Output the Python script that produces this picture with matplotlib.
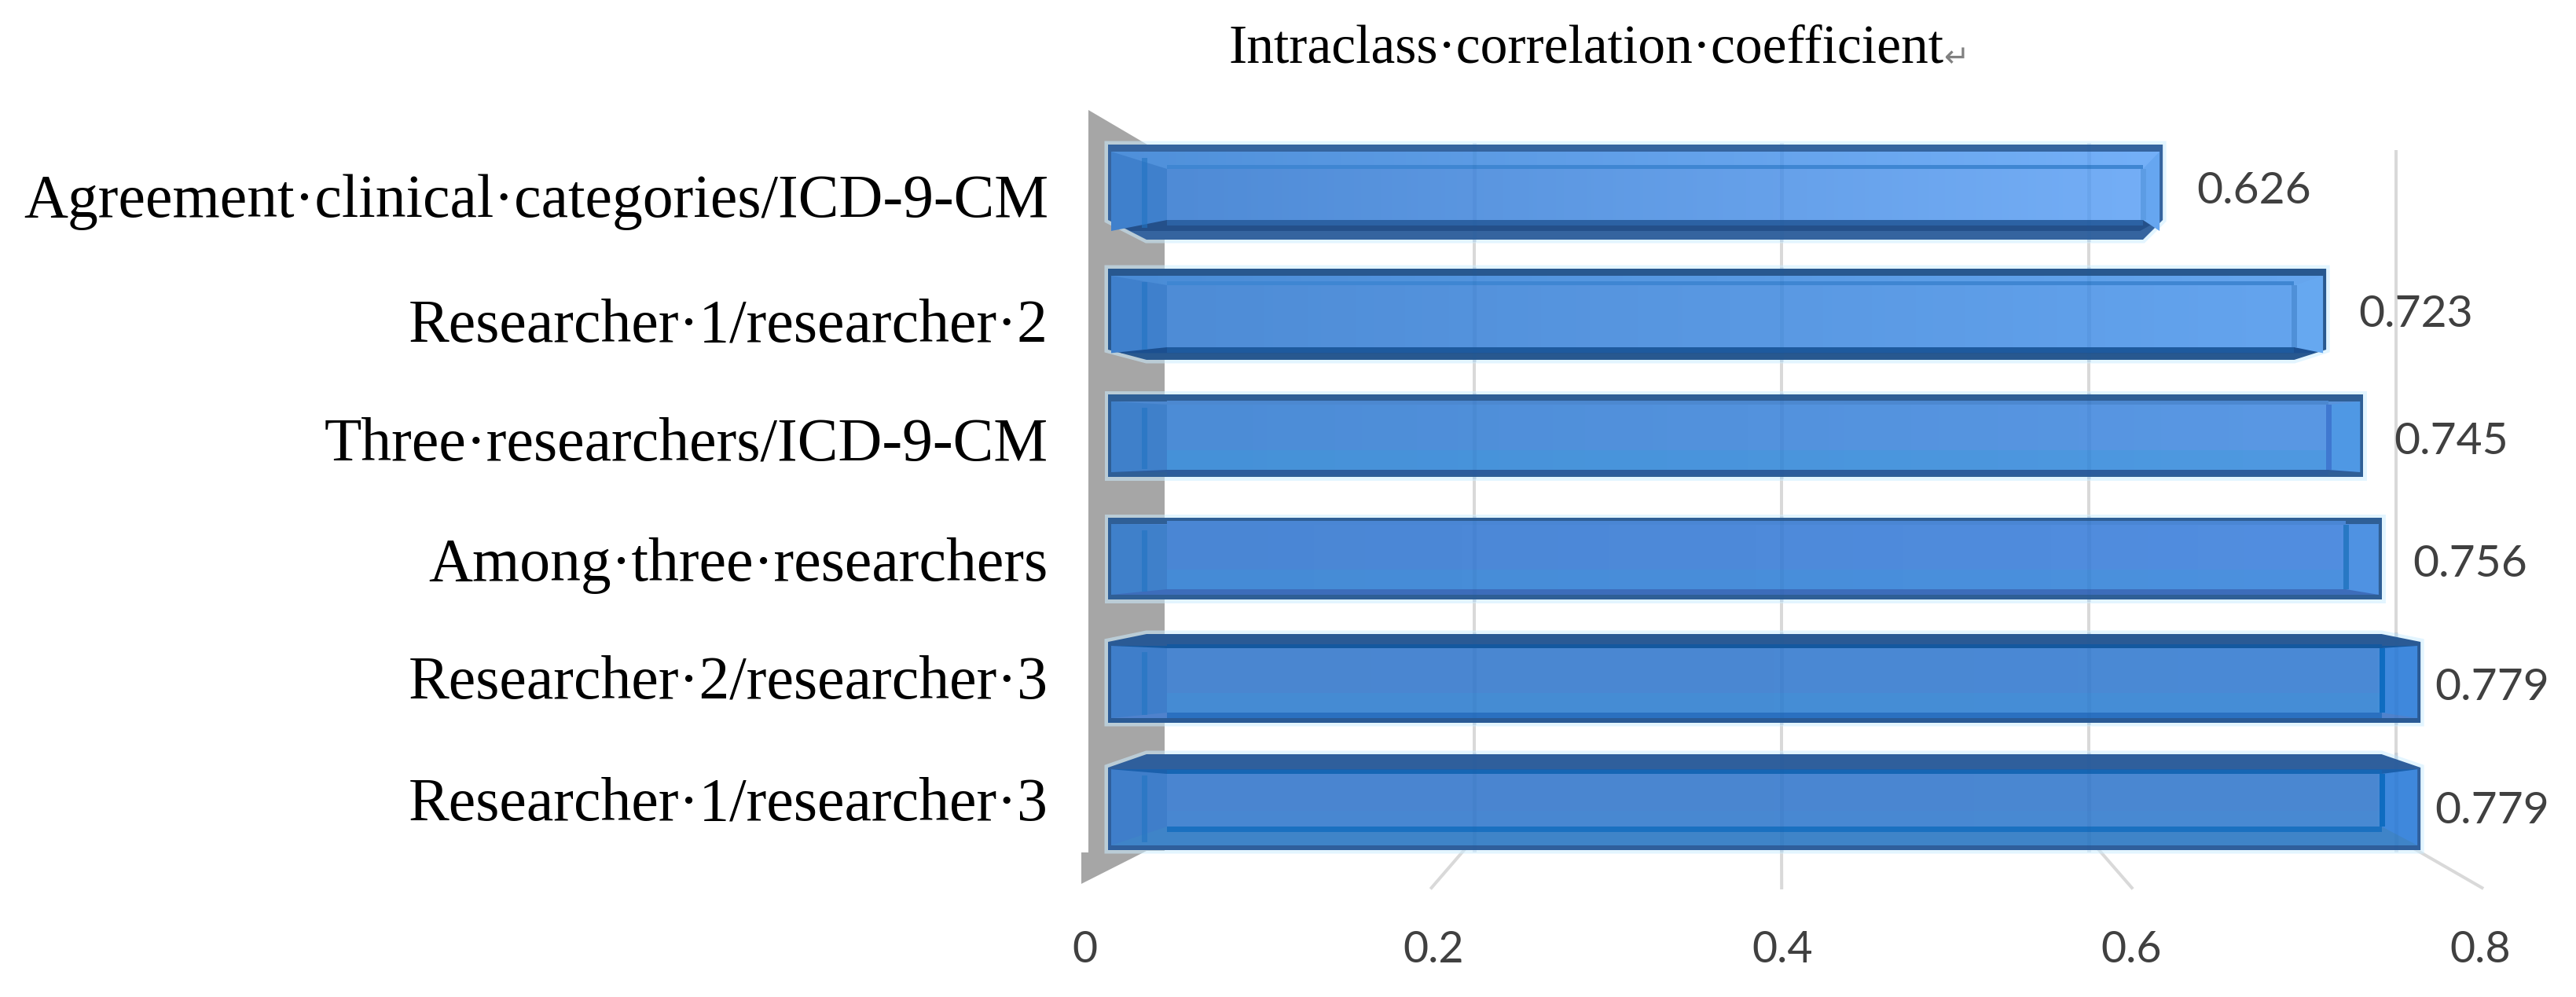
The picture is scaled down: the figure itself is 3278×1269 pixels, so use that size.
import numpy as np
import matplotlib
matplotlib.use("Agg")
import matplotlib.pyplot as plt
from matplotlib.colors import LinearSegmentedColormap
from matplotlib.patches import Polygon

# ---- data (top to bottom) ----
categories = ["Agreement·clinical·categories/ICD-9-CM", "Researcher·1/researcher·2",
              "Three·researchers/ICD-9-CM", "Among·three·researchers",
              "Researcher·2/researcher·3", "Researcher·1/researcher·3"]
values = [0.626, 0.723, 0.745, 0.756, 0.779, 0.779]
value_labels = ["0.626", "0.723", "0.745", "0.756", "0.779", "0.779"]
ticks = [0, 0.2, 0.4, 0.6, 0.8]
tick_labels = ["0", "0.2", "0.4", "0.6", "0.8"]
title = "Intraclass·correlation·coefficient"

# ---- picture geometry (pixels), styling only ----
W, H = 3278, 1269
PX = 0.72  # points per pixel at dpi 100
X0, SX = 1410, 2144        # front plane: x pixel of value 0, pixels per unit
IN0, INS = 1485, 1984      # inner front face
BK0, BKS = 1485, 1955      # back wall
FL0, FLS = 1376, 2228      # floor edge
LB0, LBS = 1380, 2220      # tick-label position
Y0, SY = 244.5, 155.3      # y pixel of category 0, pixels per category
AX_L = 1338

bar_top = [184, 342, 502, 659, 807, 960]
face_top = [215, 363, 515, 668, 825, 985]
face_bot = [280, 442, 598, 750, 907, 1052]
bar_bot = [305, 458, 607, 763, 920, 1082]
cham_top = [0, 0, 0, 0, 10, 17]
cham_bot = [25, 13, 0, 0, 0, 0]
edge_col = ["#35649f", "#28588f", "#2f5f96", "#2f5f96", "#2a5a95", "#2f5f9c"]
top_col = ["#4f90da", "#4a8cd6", "#4c88d0", "#4a86d4", "#14589f", "#1a60ac"]
top_col_r = ["#74b0f8", "#66a6ee", "#5a94dc", "#528ee0", "#14589f", "#1a60ac"]
top_line = ["#3f86d2", "#3f86d2", "#4c88d0", "#4a86d4", "#14589f", "#1666b4"]
bot_col = ["#24508a", "#1b4f90", "#2c5c9c", "#3d6dbb", "#4f82cc", "#3f84c8"]
bot_line = ["#2c62a4", "#1e5a9e", "#2c5c9c", "#3d6dbb", "#2a70c0", "#1a70c0"]
face_l = ["#4f8bd6", "#4e8cd6", "#4c8cd6", "#4a86d4", "#4a86d0", "#4a85d0"]
face_r = ["#74aef6", "#64a4ee", "#5a98e4", "#528ee0", "#4a8ad6", "#4a88d2"]
side_l = ["#3f80cc", "#3f80cc", "#3f80ca", "#3f80ca", "#3f7eca", "#3f7eca"]
side_r = ["#66a6f0", "#66a8f0", "#4f98e4", "#4f92e2", "#3f88dc", "#3f88dc"]
side_rl = ["#5c9ce4", "#4f90d8", "#3f78d0", "#2878c4", "#0f6cc0", "#0f6cc0"]
strip_alpha = [0, 0, 0.35, 0.25, 0.25, 0.1]
label_gap = [43, 41, 39, 39, 18, 18]
label_y = [243, 400, 562, 718, 875, 1032]
cat_y = [249, 407, 558, 711, 861, 1016]

fig = plt.figure(figsize=(W / 100, H / 100), dpi=100, facecolor="white")
y_top = Y0 - 0.5 * SY
y_bot = Y0 + 5.5 * SY
ax = fig.add_axes([AX_L / W, 1 - y_bot / H, (W - AX_L) / W, (y_bot - y_top) / H])
ax.set_xlim((AX_L - X0) / SX, (W - X0) / SX)
ax.set_ylim(5.5, -0.5)
for s in ax.spines.values():
    s.set_visible(False)

dx = lambda p: (p - X0) / SX
dy = lambda p: (p - Y0) / SY


def poly(xs, ys, color, z, **kw):
    return ax.fill([dx(x) for x in xs], [dy(y) for y in ys], color=color, lw=0, zorder=z,
                   clip_on=False, **kw)[0]


def gradient(patch, x0, x1, y0, y1, c0, c1, z):
    cmap = LinearSegmentedColormap.from_list("f", [c0, c1])
    im = ax.imshow(np.linspace(0, 1, 256)[None, :], cmap=cmap, aspect="auto", zorder=z,
                   extent=(dx(x0), dx(x1), dy(y1), dy(y0)))
    im.set_clip_path(patch)


# side wall
poly([1385, 1482, 1482, 1459, 1376, 1376, 1385], [140, 197, 1083, 1083, 1125, 1085, 1085], "#a6a6a6", 1)

# gridlines on the back wall and floor
for v in ticks[1:]:
    bk, fl = BK0 + BKS * v, FL0 + FLS * v
    ax.plot([dx(bk), dx(bk), dx(fl)], [dy(193), dy(1067), dy(1130)], color="#d9d9d9",
            lw=4 * PX, zorder=2, clip_on=False, solid_joinstyle="round")

# bars
for i, v in enumerate(values):
    R = X0 + SX * v
    IR = IN0 + INS * v
    t, ft, fb, b = bar_top[i], face_top[i], face_bot[i], bar_bot[i]
    ct, cb = cham_top[i], cham_bot[i]
    xs = [X0 + 49 * (ct > 0), IR if ct else R, R, R, IR if cb else R, X0 + 49 * (cb > 0), X0, X0]
    ys = [t, t, t + ct, b - cb, b, b, b - cb, t + ct]
    # pale glow round the bar
    ax.add_patch(Polygon(list(zip([dx(x) for x in xs], [dy(y) for y in ys])), closed=True,
                         facecolor="none", edgecolor=(0.80, 0.93, 1.0, 0.55),
                         lw=9 * PX, zorder=3, clip_on=False))
    poly(xs, ys, edge_col[i], 4)
    # inset area
    e = 4
    it, ib = t + min(9, ft - t - 1) + ct * 0.6, b - min(6, b - fb - 1) - cb * 0.2
    L2, R2 = X0 + e, R - e
    tp = poly([L2, R2, R2, L2], [it, it, ft, ft], top_col[i], 5)
    gradient(tp, L2, R2, it, ft, top_col[i], top_col_r[i], 5.1)
    poly([IN0, IR, IR, IN0], [ft - 5, ft - 5, ft, ft], top_line[i], 6)
    poly([L2, R2, R2 - cb, L2 + cb], [fb, fb, ib, ib], bot_col[i], 5)
    poly([IN0, IR, IR, IN0], [fb, fb, fb + 7, fb + 7], bot_line[i], 6)
    # end facets
    poly([L2, IN0, IN0, L2], [it, ft, fb, ib], side_l[i], 7)
    poly([1453, 1460, 1460, 1453], [it + 8, it + 8, ib - 4, ib - 4], "#2274c2", 8, alpha=0.6)
    poly([IR, R2, R2, IR], [ft, it, ib, fb], side_r[i], 7)
    poly([IR - 3, IR + 4, IR + 4, IR - 3], [ft, ft, fb, fb], side_rl[i], 8)
    # front face: the bar itself, filled with a left-to-right gradient
    bars = ax.barh(0.5 * (dy(ft) + dy(fb)), (IR - IN0) / SX, left=dx(IN0), height=(fb - ft) / SY,
                   color=face_l[i], zorder=6.5, lw=0)
    gradient(bars[0], IN0, IR, ft, fb, face_l[i], face_r[i], 6.6)
    if strip_alpha[i]:
        s0 = fb - 0.3 * (fb - ft)
        poly([IN0, IR, IR, IN0], [s0, s0, fb, fb], "#3a9cdc", 6.7, alpha=strip_alpha[i])
    # gridlines showing faintly through this bar
    for g in ticks[1:]:
        bk = BK0 + BKS * g
        if bk < R:
            ax.plot([dx(bk), dx(bk)], [dy(t), dy(b)], color="#1c5aa0", alpha=0.09, lw=5 * PX, zorder=9)
    # value label
    ax.text(dx(R + label_gap[i]), dy(label_y[i]), value_labels[i], family="Lato", fontsize=41,
            color="#404040", va="center", ha="left", zorder=12)

ax.set_xlim((AX_L - X0) / SX, (W - X0) / SX)
ax.set_ylim(5.5, -0.5)

# axes text
ax.set_yticks([dy(y) for y in cat_y])
ax.set_yticklabels(categories, family="Liberation Serif", fontsize=55.8, color="#000000")
ax.set_xticks([dx(LB0 + LBS * v) for v in ticks])
ax.set_xticklabels(tick_labels, family="Lato", fontsize=40, color="#404040")
ax.tick_params(axis="y", length=0, pad=4 * PX)
ax.tick_params(axis="x", length=0, pad=(1184 - y_bot) * PX)

t = fig.text(1563 / W, 1 - 79 / H, title, family="Liberation Serif", fontsize=50, color="#000000",
             ha="left", va="baseline")
ax.annotate("↵", xy=(1, 0), xycoords=t, xytext=(0, 1), textcoords="offset points", family="DejaVu Sans",
            fontsize=28, color="#808080", ha="left", va="bottom", annotation_clip=False)

fig.savefig("out.png", dpi=100, facecolor="white")
